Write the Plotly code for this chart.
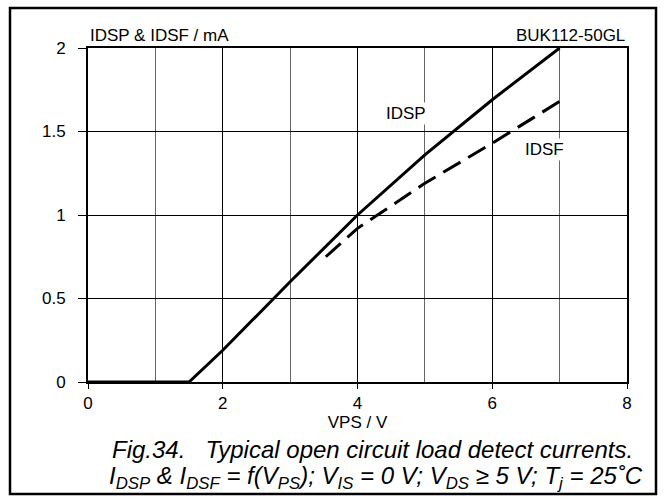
import plotly.graph_objects as go

# Data
idsp_v = [0, 1.5, 2, 3, 4, 5, 6, 7]
idsp_i = [0, 0, 0.19, 0.6, 1.0, 1.36, 1.69, 2.0]

idsf_v = [3.53, 4, 5, 6, 7]
idsf_i = [0.75, 0.92, 1.19, 1.43, 1.68]

x_ticks = [0, 2, 4, 6, 8]
y_ticks = [0, 0.5, 1, 1.5, 2]
y_tick_text = ["0", "0.5", "1", "1.5", "2"]

FONT = "Liberation Sans, Arial, sans-serif"

fig = go.Figure()
fig.add_trace(go.Scatter(x=idsp_v, y=idsp_i, mode="lines",
                         line=dict(color="black", width=3), showlegend=False))
fig.add_trace(go.Scatter(x=idsf_v, y=idsf_i, mode="lines",
                         line=dict(color="black", width=3, dash="20px,9px"), showlegend=False))

W, H = 665, 501
L, R, T, B = 88, 38, 48, 119
PW, PH = W - L - R, H - T - B


def px_x(px):
    return (px - L) / PW


def px_y(py):
    return (H - B - py) / PH


fig.update_layout(
    width=W, height=H,
    margin=dict(l=L, r=R, t=T, b=B),
    paper_bgcolor="white", plot_bgcolor="white",
    font=dict(family=FONT, size=17, color="black"),
    xaxis=dict(range=[0, 8], tickvals=x_ticks, ticktext=[str(v) for v in x_ticks],
               showgrid=True, gridcolor="black", gridwidth=1,
               minor=dict(dtick=1, showgrid=True, gridcolor="#666", gridwidth=1),
               showline=True, linecolor="black", linewidth=2, mirror=True,
               ticks="outside", ticklen=5, tickcolor="black", zeroline=False,
               ticklabelstandoff=0,
               title=dict(text="VPS / V", font=dict(size=17, family=FONT), standoff=1),
               tickfont=dict(size=17, family=FONT)),
    yaxis=dict(range=[0, 2], tickvals=y_ticks, ticktext=y_tick_text,
               showgrid=True, gridcolor="black", gridwidth=1,
               showline=True, linecolor="black", linewidth=2, mirror=True,
               ticks="outside", ticklen=8, tickcolor="black", zeroline=False,
               ticklabelstandoff=9,
               tickfont=dict(size=17, family=FONT)),
)

# Curve labels
fig.add_annotation(x=4.72, y=1.606, text="IDSP", showarrow=False, bgcolor="white",
                   font=dict(size=17, family=FONT), borderpad=1)
fig.add_annotation(x=6.77, y=1.39, text="IDSF", showarrow=False, bgcolor="white",
                   font=dict(size=17, family=FONT), borderpad=1)

# Header texts
fig.add_annotation(xref="paper", yref="paper", x=px_x(88), y=px_y(36), xanchor="left", yanchor="middle",
                   text="IDSP &amp; IDSF / mA", showarrow=False,
                   font=dict(size=17, family=FONT))
fig.add_annotation(xref="paper", yref="paper", x=px_x(627), y=px_y(36), xanchor="right", yanchor="middle",
                   text="BUK112-50GL", showarrow=False,
                   font=dict(size=17, family=FONT))

# Caption
fig.add_annotation(xref="paper", yref="paper", x=px_x(372), y=px_y(449), xanchor="center", yanchor="middle",
                   text="<i>Fig.34.   Typical open circuit load detect currents.</i>",
                   showarrow=False, font=dict(size=24, family=FONT))
fig.add_annotation(xref="paper", yref="paper", x=px_x(376), y=px_y(477), xanchor="center", yanchor="middle",
                   text="<i>I<sub>DSP</sub> &amp; I<sub>DSF</sub> = f(V<sub>PS</sub>); V<sub>IS</sub> = 0 V; "
                        "V<sub>DS</sub> ≥ 5 V; T<sub>j</sub> = 25˚C</i>",
                   showarrow=False, font=dict(size=24, family=FONT))

# Outer frame
fig.add_shape(type="rect", xref="paper", yref="paper",
              x0=px_x(10), x1=px_x(656), y0=px_y(494), y1=px_y(8),
              line=dict(color="black", width=2.5))

fig.write_html("out.html", config={"displayModeBar": False},
               post_script="document.body.style.margin='0';document.body.style.overflow='hidden';")
